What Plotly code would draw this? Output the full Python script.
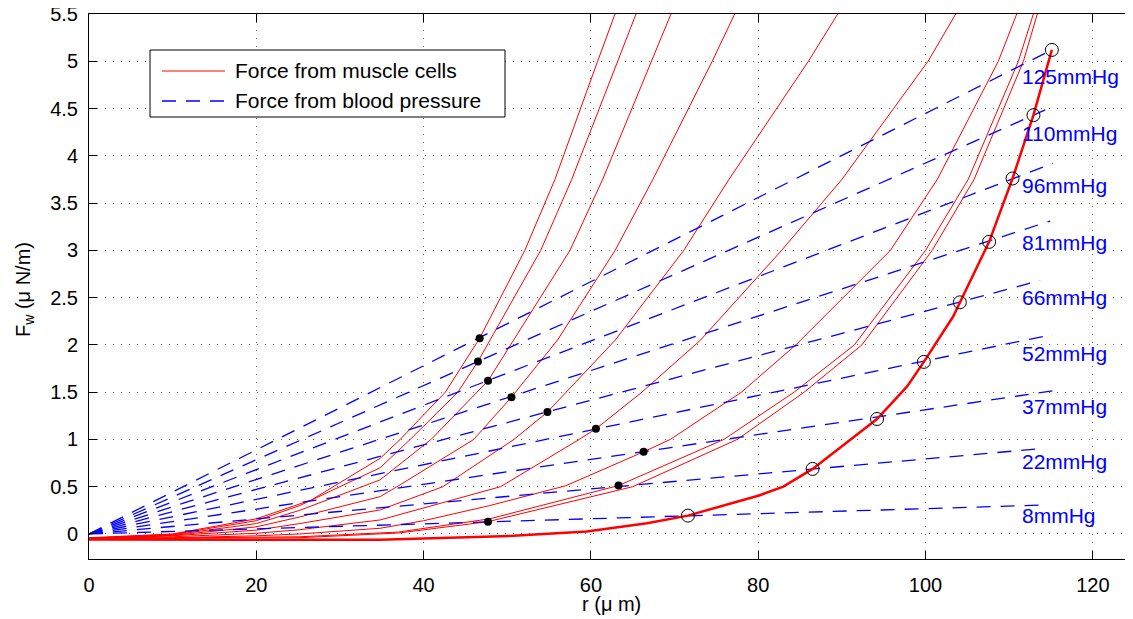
import plotly.graph_objects as go

# ---------------- data ----------------
pressures = [8, 22, 37, 52, 66, 81, 96, 110, 125]
pressure_labels = ["8mmHg", "22mmHg", "37mmHg", "52mmHg", "66mmHg",
                   "81mmHg", "96mmHg", "110mmHg", "125mmHg"]

bp_r_end = [114.6, 114.3, 115.2, 115.2, 113.7, 114.9, 115.2, 115.2, 115.1]
bp_F_end = [0.307, 0.907, 1.514, 2.11, 2.68, 3.31, 3.92, 4.52, 5.12]

# label anchor positions
label_r = 111.3
label_F = [0.19, 0.762, 1.343, 1.914, 2.496, 3.078, 3.681, 4.231, 4.834]

# muscle-cell force curves (one per pressure)
r_125 = [0, 10, 20, 26.6, 34.8, 37.2, 42.6, 46.7, 52.1, 55.7, 60.8, 62.88]
F_125 = [-0.04, 0.0, 0.16, 0.36, 0.80, 1.0, 1.5, 2.07, 3.0, 3.75, 5.0, 5.5]

r_110 = [0, 10, 20, 25.2, 34.8, 38.4, 44.1, 46.5, 54.0, 57.7, 63.2, 65.39]
F_110 = [-0.045, -0.005, 0.14, 0.30, 0.70, 1.0, 1.5, 1.825, 3.0, 3.75, 5.0, 5.5]

r_96 = [0, 10, 20, 25.2, 34.8, 40.9, 47.7, 57.5, 61.4, 67.2, 69.57]
F_96 = [-0.045, -0.01, 0.11, 0.25, 0.572, 1.0, 1.62, 3.0, 3.75, 5.0, 5.5]

r_81 = [0, 10, 20, 25.2, 34.8, 37.2, 46.0, 50.5, 56.0, 62.9, 67.4, 74.5, 77.19]
F_81 = [-0.05, -0.015, 0.075, 0.18, 0.395, 0.52, 1.0, 1.447, 2.05, 3.0, 3.75, 5.0, 5.5]

r_66 = [0, 10, 20, 25.2, 34.8, 42.3, 50.8, 54.8, 62.9, 71.1, 76.5, 86.0, 89.5]
F_66 = [-0.05, -0.02, 0.04, 0.11, 0.254, 0.5, 1.0, 1.289, 2.05, 3.0, 3.75, 5.0, 5.5]

r_52 = [0, 10, 20, 25.2, 34.8, 49.2, 58.6, 60.6, 66.1, 73.1, 82.8, 90.0, 100.3, 103.61]
F_52 = [-0.05, -0.03, 0.007, 0.045, 0.148, 0.5, 1.0, 1.112, 1.5, 2.05, 3.0, 3.75, 5.0, 5.5]

r_37 = [0, 10, 20, 25.2, 34.8, 40, 47.9, 57, 66.3, 69.5, 78, 84.5, 95.8, 101.4, 108.7, 110.9]
F_37 = [-0.05, -0.04, -0.02, 0.0, 0.06, 0.14, 0.3, 0.51, 0.869, 1.0, 1.5, 2.0, 3.0, 3.75, 5.0, 5.5]

r_22 = [0, 20, 25.2, 37, 47.9, 63.3, 75.9, 84.3, 91.5, 100.0, 105.1, 111.1, 112.89]
F_22 = [-0.05, -0.035, -0.03, 0.02, 0.16, 0.512, 1.0, 1.5, 2.0, 3.0, 3.75, 5.0, 5.5]

r_8 = [0, 20, 25.2, 37, 47.7, 65.0, 77.5, 85.5, 92.4, 100.8, 105.8, 111.7, 113.36]
F_8 = [-0.05, -0.045, -0.04, 0.01, 0.13, 0.5, 1.0, 1.5, 2.0, 3.0, 3.75, 5.0, 5.5]

# passive curve (thick)
r_passive = [0, 34.8, 50.7, 59.5, 66.7, 71.6, 80.2, 83.0, 86.5, 91.0, 94.2, 97.8,
             99.8, 103.3, 104.1, 107.6, 110.4, 112.9, 115.1]
F_passive = [-0.06, -0.062, -0.02, 0.025, 0.113, 0.194, 0.41, 0.5, 0.688, 0.995, 1.216,
             1.56, 1.82, 2.3, 2.45, 3.09, 3.76, 4.43, 5.12]

# equilibrium points on active curves (filled dots)
eq_r = [47.7, 63.3, 66.3, 60.6, 54.8, 50.5, 47.7, 46.5, 46.7]
eq_F = [0.13, 0.512, 0.869, 1.112, 1.289, 1.447, 1.62, 1.825, 2.07]

# equilibrium points on passive curve (open circles)
peq_r = [71.6, 86.5, 94.2, 99.8, 104.1, 107.6, 110.4, 112.9, 115.1]
peq_F = [0.194, 0.688, 1.216, 1.82, 2.45, 3.09, 3.76, 4.43, 5.12]

muscle_r = [r_8, r_22, r_37, r_52, r_66, r_81, r_96, r_110, r_125]
muscle_F = [F_8, F_22, F_37, F_52, F_66, F_81, F_96, F_110, F_125]

# ---------------- figure ----------------
FONT = "Liberation Sans, Arial, Helvetica, sans-serif"
RED = "#ff0000"
BLUE = "#0000ff"
DASH = "14px,10px"

fig = go.Figure()

for rr, ff in zip(muscle_r, muscle_F):
    fig.add_trace(go.Scatter(x=rr, y=ff, mode="lines",
                             line=dict(color=RED, width=1), showlegend=False,
                             hoverinfo="skip"))

for re_, fe_ in zip(bp_r_end, bp_F_end):
    fig.add_trace(go.Scatter(x=[0, re_], y=[0, fe_], mode="lines",
                             line=dict(color=BLUE, width=1.3, dash=DASH),
                             showlegend=False, hoverinfo="skip"))

fig.add_trace(go.Scatter(x=r_passive, y=F_passive, mode="lines",
                         line=dict(color=RED, width=2.5), showlegend=False))

fig.add_trace(go.Scatter(x=eq_r, y=eq_F, mode="markers",
                         marker=dict(color="black", size=8, line=dict(width=0)),
                         showlegend=False))
fig.add_trace(go.Scatter(x=peq_r, y=peq_F, mode="markers",
                         marker=dict(symbol="circle-open", color="black", size=13,
                                     line=dict(width=1)),
                         showlegend=False))

annotations = []
for lab, fy in zip(pressure_labels, label_F):
    annotations.append(dict(x=label_r, y=fy, xref="x", yref="y", text=lab,
                            showarrow=False, xanchor="left", yanchor="middle",
                            font=dict(family=FONT, size=21, color=BLUE)))

# the page places the figure 8px in from the top-left corner of the window
PAGE_OFF = 8
PL, PR, PT, PB = 89, 1133, 14, 559          # plot area in window pixels
W, H = 1133 - PAGE_OFF, 619 - PAGE_OFF
ML, MT = PL - PAGE_OFF, PT - PAGE_OFF
MR = W - (PR - PAGE_OFF)
MB = H - (PB - PAGE_OFF)


def px2paper_x(px):
    return (px - PL) / (PR - PL)


def px2paper_y(py):
    return (PB - py) / (PB - PT)


# axis titles
annotations.append(dict(x=0.5, y=px2paper_y(604), xref="paper", yref="paper",
                        text="r (μ m)", showarrow=False, xanchor="center",
                        yanchor="middle", font=dict(family=FONT, size=20, color="black")))
annotations.append(dict(x=px2paper_x(24), y=px2paper_y(290), xref="paper", yref="paper",
                        text="F<sub>w</sub> (μ N/m)", showarrow=False, textangle=-90,
                        xanchor="center", yanchor="middle",
                        font=dict(family=FONT, size=20, color="black")))

# manual legend
legend_items = ["Force from muscle cells", "Force from blood pressure"]
annotations.append(dict(x=px2paper_x(233), y=px2paper_y(71), xref="paper", yref="paper",
                        text=legend_items[0], showarrow=False, xanchor="left",
                        yanchor="middle", font=dict(family=FONT, size=21, color="black")))
annotations.append(dict(x=px2paper_x(233), y=px2paper_y(101), xref="paper", yref="paper",
                        text=legend_items[1], showarrow=False, xanchor="left",
                        yanchor="middle", font=dict(family=FONT, size=21, color="black")))

shapes = [
    dict(type="rect", xref="paper", yref="paper",
         x0=px2paper_x(150), x1=px2paper_x(505), y0=px2paper_y(117), y1=px2paper_y(50),
         line=dict(color="black", width=1), fillcolor="white", layer="above"),
    dict(type="line", xref="paper", yref="paper",
         x0=px2paper_x(162), x1=px2paper_x(225), y0=px2paper_y(71), y1=px2paper_y(71),
         line=dict(color=RED, width=1), layer="above"),
    dict(type="line", xref="paper", yref="paper",
         x0=px2paper_x(162), x1=px2paper_x(225), y0=px2paper_y(101), y1=px2paper_y(101),
         line=dict(color=BLUE, width=1.3, dash=DASH), layer="above"),
]

x_ticks = [0, 20, 40, 60, 80, 100, 120]
y_ticks = [0, 0.5, 1, 1.5, 2, 2.5, 3, 3.5, 4, 4.5, 5, 5.5]
y_ticktext = ["0", "0.5", "1", "1.5", "2", "2.5", "3", "3.5", "4", "4.5", "5", "5.5"]

axis_common = dict(showline=True, linecolor="black", linewidth=1, mirror="ticks",
                   ticks="inside", ticklen=8, tickwidth=1, tickcolor="black",
                   showgrid=True, gridcolor="rgba(0,0,0,0.6)", gridwidth=1,
                   griddash="1px,7px", zeroline=False, automargin=False,
                   ticklabeloverflow="allow",
                   tickfont=dict(family=FONT, size=20, color="black"))

fig.update_layout(
    width=W, height=H, autosize=False,
    margin=dict(l=ML, r=MR, t=MT, b=MB, pad=0, autoexpand=False),
    paper_bgcolor="white", plot_bgcolor="white",
    showlegend=False,
    xaxis=dict(range=[0, 124.8], tickvals=x_ticks, ticktext=[str(v) for v in x_ticks],
               ticklabelstandoff=8, **axis_common),
    yaxis=dict(range=[-0.265, 5.5], tickvals=y_ticks, ticktext=y_ticktext,
               ticklabelstandoff=6, **axis_common),
    annotations=annotations,
    shapes=shapes,
)

fig.write_html("out.html")
